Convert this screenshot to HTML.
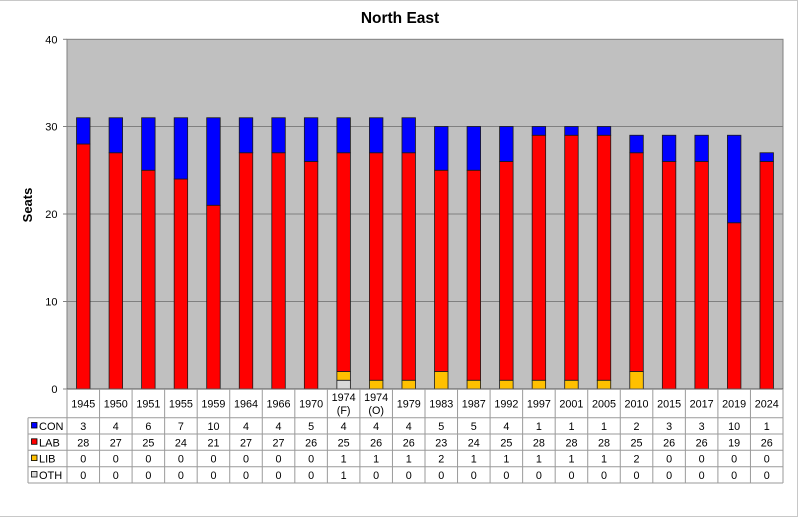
<!DOCTYPE html>
<html><head><meta charset="utf-8"><style>
html,body{margin:0;padding:0;background:#fff;}
svg{display:block;font-family:"Liberation Sans",Arial,sans-serif;}
</style></head><body>
<svg width="800" height="518" viewBox="0 0 800 518" xmlns="http://www.w3.org/2000/svg">
<rect x="0" y="0" width="800" height="518" fill="#fff"/>
<!-- outer frame -->
<line x1="0" y1="0.5" x2="798" y2="0.5" stroke="#c8c8c8" stroke-width="1"/>
<line x1="797.5" y1="0" x2="797.5" y2="517" stroke="#c8c8c8" stroke-width="1"/>
<line x1="0" y1="516.5" x2="798" y2="516.5" stroke="#c8c8c8" stroke-width="1"/>

<text x="400" y="23" text-anchor="middle" font-size="15.5" font-weight="bold" fill="#000">North East</text>

<!-- plot area -->
<rect x="67" y="39.3" width="716" height="349.7" fill="#c0c0c0" stroke="#808080" stroke-width="1"/>
<g stroke="#808080" stroke-width="1">
<line x1="63" y1="126.5" x2="783" y2="126.5"/>
<line x1="63" y1="214" x2="783" y2="214"/>
<line x1="63" y1="301.5" x2="783" y2="301.5"/>
<line x1="63" y1="39.3" x2="67" y2="39.3"/>
<line x1="63" y1="389" x2="67" y2="389"/>
</g>
<g font-size="11" fill="#000" text-anchor="end">
<text x="57.5" y="43.5">40</text>
<text x="57.5" y="130.5">30</text>
<text x="57.5" y="218">20</text>
<text x="57.5" y="305.5">10</text>
<text x="57.5" y="393">0</text>
</g>
<text transform="translate(32,205) rotate(-90)" text-anchor="middle" font-size="13" font-weight="bold" fill="#000">Seats</text>

<!-- bars -->
<g stroke="#1a1a1a" stroke-width="0.8">
<!-- 1945 -->
<rect x="76.52" y="144" width="13.5" height="245" fill="#ff0000"/>
<rect x="76.52" y="117.75" width="13.5" height="26.25" fill="#0000ff"/>
<!-- 1950 -->
<rect x="109.07" y="152.75" width="13.5" height="236.25" fill="#ff0000"/>
<rect x="109.07" y="117.75" width="13.5" height="35" fill="#0000ff"/>
<!-- 1951 -->
<rect x="141.61" y="170.25" width="13.5" height="218.75" fill="#ff0000"/>
<rect x="141.61" y="117.75" width="13.5" height="52.5" fill="#0000ff"/>
<!-- 1955 -->
<rect x="174.16" y="179" width="13.5" height="210" fill="#ff0000"/>
<rect x="174.16" y="117.75" width="13.5" height="61.25" fill="#0000ff"/>
<!-- 1959 -->
<rect x="206.7" y="205.25" width="13.5" height="183.75" fill="#ff0000"/>
<rect x="206.7" y="117.75" width="13.5" height="87.5" fill="#0000ff"/>
<!-- 1964 -->
<rect x="239.25" y="152.75" width="13.5" height="236.25" fill="#ff0000"/>
<rect x="239.25" y="117.75" width="13.5" height="35" fill="#0000ff"/>
<!-- 1966 -->
<rect x="271.79" y="152.75" width="13.5" height="236.25" fill="#ff0000"/>
<rect x="271.79" y="117.75" width="13.5" height="35" fill="#0000ff"/>
<!-- 1970 -->
<rect x="304.34" y="161.5" width="13.5" height="227.5" fill="#ff0000"/>
<rect x="304.34" y="117.75" width="13.5" height="43.75" fill="#0000ff"/>
<!-- 1974F -->
<rect x="336.88" y="380.25" width="13.5" height="8.75" fill="#d9d9d9"/>
<rect x="336.88" y="371.5" width="13.5" height="8.75" fill="#ffc000"/>
<rect x="336.88" y="152.75" width="13.5" height="218.75" fill="#ff0000"/>
<rect x="336.88" y="117.75" width="13.5" height="35" fill="#0000ff"/>
<!-- 1974O -->
<rect x="369.43" y="380.25" width="13.5" height="8.75" fill="#ffc000"/>
<rect x="369.43" y="152.75" width="13.5" height="227.5" fill="#ff0000"/>
<rect x="369.43" y="117.75" width="13.5" height="35" fill="#0000ff"/>
<!-- 1979 -->
<rect x="401.97" y="380.25" width="13.5" height="8.75" fill="#ffc000"/>
<rect x="401.97" y="152.75" width="13.5" height="227.5" fill="#ff0000"/>
<rect x="401.97" y="117.75" width="13.5" height="35" fill="#0000ff"/>
<!-- 1983 -->
<rect x="434.52" y="371.5" width="13.5" height="17.5" fill="#ffc000"/>
<rect x="434.52" y="170.25" width="13.5" height="201.25" fill="#ff0000"/>
<rect x="434.52" y="126.5" width="13.5" height="43.75" fill="#0000ff"/>
<!-- 1987 -->
<rect x="467.06" y="380.25" width="13.5" height="8.75" fill="#ffc000"/>
<rect x="467.06" y="170.25" width="13.5" height="210" fill="#ff0000"/>
<rect x="467.06" y="126.5" width="13.5" height="43.75" fill="#0000ff"/>
<!-- 1992 -->
<rect x="499.61" y="380.25" width="13.5" height="8.75" fill="#ffc000"/>
<rect x="499.61" y="161.5" width="13.5" height="218.75" fill="#ff0000"/>
<rect x="499.61" y="126.5" width="13.5" height="35" fill="#0000ff"/>
<!-- 1997 -->
<rect x="532.15" y="380.25" width="13.5" height="8.75" fill="#ffc000"/>
<rect x="532.15" y="135.25" width="13.5" height="245" fill="#ff0000"/>
<rect x="532.15" y="126.5" width="13.5" height="8.75" fill="#0000ff"/>
<!-- 2001 -->
<rect x="564.7" y="380.25" width="13.5" height="8.75" fill="#ffc000"/>
<rect x="564.7" y="135.25" width="13.5" height="245" fill="#ff0000"/>
<rect x="564.7" y="126.5" width="13.5" height="8.75" fill="#0000ff"/>
<!-- 2005 -->
<rect x="597.24" y="380.25" width="13.5" height="8.75" fill="#ffc000"/>
<rect x="597.24" y="135.25" width="13.5" height="245" fill="#ff0000"/>
<rect x="597.24" y="126.5" width="13.5" height="8.75" fill="#0000ff"/>
<!-- 2010 -->
<rect x="629.79" y="371.5" width="13.5" height="17.5" fill="#ffc000"/>
<rect x="629.79" y="152.75" width="13.5" height="218.75" fill="#ff0000"/>
<rect x="629.79" y="135.25" width="13.5" height="17.5" fill="#0000ff"/>
<!-- 2015 -->
<rect x="662.33" y="161.5" width="13.5" height="227.5" fill="#ff0000"/>
<rect x="662.33" y="135.25" width="13.5" height="26.25" fill="#0000ff"/>
<!-- 2017 -->
<rect x="694.88" y="161.5" width="13.5" height="227.5" fill="#ff0000"/>
<rect x="694.88" y="135.25" width="13.5" height="26.25" fill="#0000ff"/>
<!-- 2019 -->
<rect x="727.42" y="222.75" width="13.5" height="166.25" fill="#ff0000"/>
<rect x="727.42" y="135.25" width="13.5" height="87.5" fill="#0000ff"/>
<!-- 2024 -->
<rect x="759.97" y="161.5" width="13.5" height="227.5" fill="#ff0000"/>
<rect x="759.97" y="152.75" width="13.5" height="8.75" fill="#0000ff"/>
</g>
<line x1="67" y1="389" x2="783" y2="389" stroke="#555" stroke-width="1"/>

<!-- data table -->
<g stroke="#9a9a9a" stroke-width="1" fill="none">
<line x1="28" y1="417.7" x2="783" y2="417.7"/>
<line x1="28" y1="434" x2="783" y2="434"/>
<line x1="28" y1="450.3" x2="783" y2="450.3"/>
<line x1="28" y1="466.7" x2="783" y2="466.7"/>
<line x1="28" y1="483" x2="783" y2="483"/>
<line x1="28" y1="417.7" x2="28" y2="483"/>
<line x1="67" y1="389" x2="67" y2="483"/>
<line x1="99.55" y1="389" x2="99.55" y2="483"/>
<line x1="132.09" y1="389" x2="132.09" y2="483"/>
<line x1="164.64" y1="389" x2="164.64" y2="483"/>
<line x1="197.18" y1="389" x2="197.18" y2="483"/>
<line x1="229.73" y1="389" x2="229.73" y2="483"/>
<line x1="262.27" y1="389" x2="262.27" y2="483"/>
<line x1="294.82" y1="389" x2="294.82" y2="483"/>
<line x1="327.36" y1="389" x2="327.36" y2="483"/>
<line x1="359.91" y1="389" x2="359.91" y2="483"/>
<line x1="392.45" y1="389" x2="392.45" y2="483"/>
<line x1="425" y1="389" x2="425" y2="483"/>
<line x1="457.54" y1="389" x2="457.54" y2="483"/>
<line x1="490.09" y1="389" x2="490.09" y2="483"/>
<line x1="522.63" y1="389" x2="522.63" y2="483"/>
<line x1="555.18" y1="389" x2="555.18" y2="483"/>
<line x1="587.72" y1="389" x2="587.72" y2="483"/>
<line x1="620.27" y1="389" x2="620.27" y2="483"/>
<line x1="652.81" y1="389" x2="652.81" y2="483"/>
<line x1="685.36" y1="389" x2="685.36" y2="483"/>
<line x1="717.9" y1="389" x2="717.9" y2="483"/>
<line x1="750.45" y1="389" x2="750.45" y2="483"/>
<line x1="783" y1="389" x2="783" y2="483"/>
</g>

<!-- legend keys -->
<g stroke="#000" stroke-width="0.8">
<rect x="31.5" y="422.5" width="5.5" height="5.5" fill="#0000ff"/>
<rect x="31.5" y="438.8" width="5.5" height="5.5" fill="#ff0000"/>
<rect x="31.5" y="455.1" width="5.5" height="5.5" fill="#ffc000"/>
<rect x="31.5" y="471.5" width="5.5" height="5.5" fill="#d9d9d9"/>
</g>
<g font-size="11" fill="#000">
<text x="39" y="430">CON</text>
<text x="39" y="446.3">LAB</text>
<text x="39" y="462.6">LIB</text>
<text x="39" y="479">OTH</text>
</g>

<!-- header years -->
<g font-size="10.8" fill="#000" text-anchor="middle">
<text x="83.27" y="407.3">1945</text>
<text x="115.82" y="407.3">1950</text>
<text x="148.36" y="407.3">1951</text>
<text x="180.91" y="407.3">1955</text>
<text x="213.45" y="407.3">1959</text>
<text x="246" y="407.3">1964</text>
<text x="278.54" y="407.3">1966</text>
<text x="311.09" y="407.3">1970</text>
<text x="343.63" y="401">1974</text>
<text x="343.63" y="414">(F)</text>
<text x="376.18" y="401">1974</text>
<text x="376.18" y="414">(O)</text>
<text x="408.72" y="407.3">1979</text>
<text x="441.27" y="407.3">1983</text>
<text x="473.81" y="407.3">1987</text>
<text x="506.36" y="407.3">1992</text>
<text x="538.9" y="407.3">1997</text>
<text x="571.45" y="407.3">2001</text>
<text x="603.99" y="407.3">2005</text>
<text x="636.54" y="407.3">2010</text>
<text x="669.08" y="407.3">2015</text>
<text x="701.63" y="407.3">2017</text>
<text x="734.17" y="407.3">2019</text>
<text x="766.72" y="407.3">2024</text>
</g>

<!-- CON row -->
<g font-size="10.8" fill="#000" text-anchor="middle">
<text x="83.27" y="430">3</text><text x="115.82" y="430">4</text><text x="148.36" y="430">6</text><text x="180.91" y="430">7</text><text x="213.45" y="430">10</text><text x="246" y="430">4</text><text x="278.54" y="430">4</text><text x="311.09" y="430">5</text><text x="343.63" y="430">4</text><text x="376.18" y="430">4</text><text x="408.72" y="430">4</text><text x="441.27" y="430">5</text><text x="473.81" y="430">5</text><text x="506.36" y="430">4</text><text x="538.9" y="430">1</text><text x="571.45" y="430">1</text><text x="603.99" y="430">1</text><text x="636.54" y="430">2</text><text x="669.08" y="430">3</text><text x="701.63" y="430">3</text><text x="734.17" y="430">10</text><text x="766.72" y="430">1</text>
</g>
<!-- LAB row -->
<g font-size="10.8" fill="#000" text-anchor="middle">
<text x="83.27" y="446.3">28</text><text x="115.82" y="446.3">27</text><text x="148.36" y="446.3">25</text><text x="180.91" y="446.3">24</text><text x="213.45" y="446.3">21</text><text x="246" y="446.3">27</text><text x="278.54" y="446.3">27</text><text x="311.09" y="446.3">26</text><text x="343.63" y="446.3">25</text><text x="376.18" y="446.3">26</text><text x="408.72" y="446.3">26</text><text x="441.27" y="446.3">23</text><text x="473.81" y="446.3">24</text><text x="506.36" y="446.3">25</text><text x="538.9" y="446.3">28</text><text x="571.45" y="446.3">28</text><text x="603.99" y="446.3">28</text><text x="636.54" y="446.3">25</text><text x="669.08" y="446.3">26</text><text x="701.63" y="446.3">26</text><text x="734.17" y="446.3">19</text><text x="766.72" y="446.3">26</text>
</g>
<!-- LIB row -->
<g font-size="10.8" fill="#000" text-anchor="middle">
<text x="83.27" y="462.6">0</text><text x="115.82" y="462.6">0</text><text x="148.36" y="462.6">0</text><text x="180.91" y="462.6">0</text><text x="213.45" y="462.6">0</text><text x="246" y="462.6">0</text><text x="278.54" y="462.6">0</text><text x="311.09" y="462.6">0</text><text x="343.63" y="462.6">1</text><text x="376.18" y="462.6">1</text><text x="408.72" y="462.6">1</text><text x="441.27" y="462.6">2</text><text x="473.81" y="462.6">1</text><text x="506.36" y="462.6">1</text><text x="538.9" y="462.6">1</text><text x="571.45" y="462.6">1</text><text x="603.99" y="462.6">1</text><text x="636.54" y="462.6">2</text><text x="669.08" y="462.6">0</text><text x="701.63" y="462.6">0</text><text x="734.17" y="462.6">0</text><text x="766.72" y="462.6">0</text>
</g>
<!-- OTH row -->
<g font-size="10.8" fill="#000" text-anchor="middle">
<text x="83.27" y="479">0</text><text x="115.82" y="479">0</text><text x="148.36" y="479">0</text><text x="180.91" y="479">0</text><text x="213.45" y="479">0</text><text x="246" y="479">0</text><text x="278.54" y="479">0</text><text x="311.09" y="479">0</text><text x="343.63" y="479">1</text><text x="376.18" y="479">0</text><text x="408.72" y="479">0</text><text x="441.27" y="479">0</text><text x="473.81" y="479">0</text><text x="506.36" y="479">0</text><text x="538.9" y="479">0</text><text x="571.45" y="479">0</text><text x="603.99" y="479">0</text><text x="636.54" y="479">0</text><text x="669.08" y="479">0</text><text x="701.63" y="479">0</text><text x="734.17" y="479">0</text><text x="766.72" y="479">0</text>
</g>
</svg>
</body></html>
